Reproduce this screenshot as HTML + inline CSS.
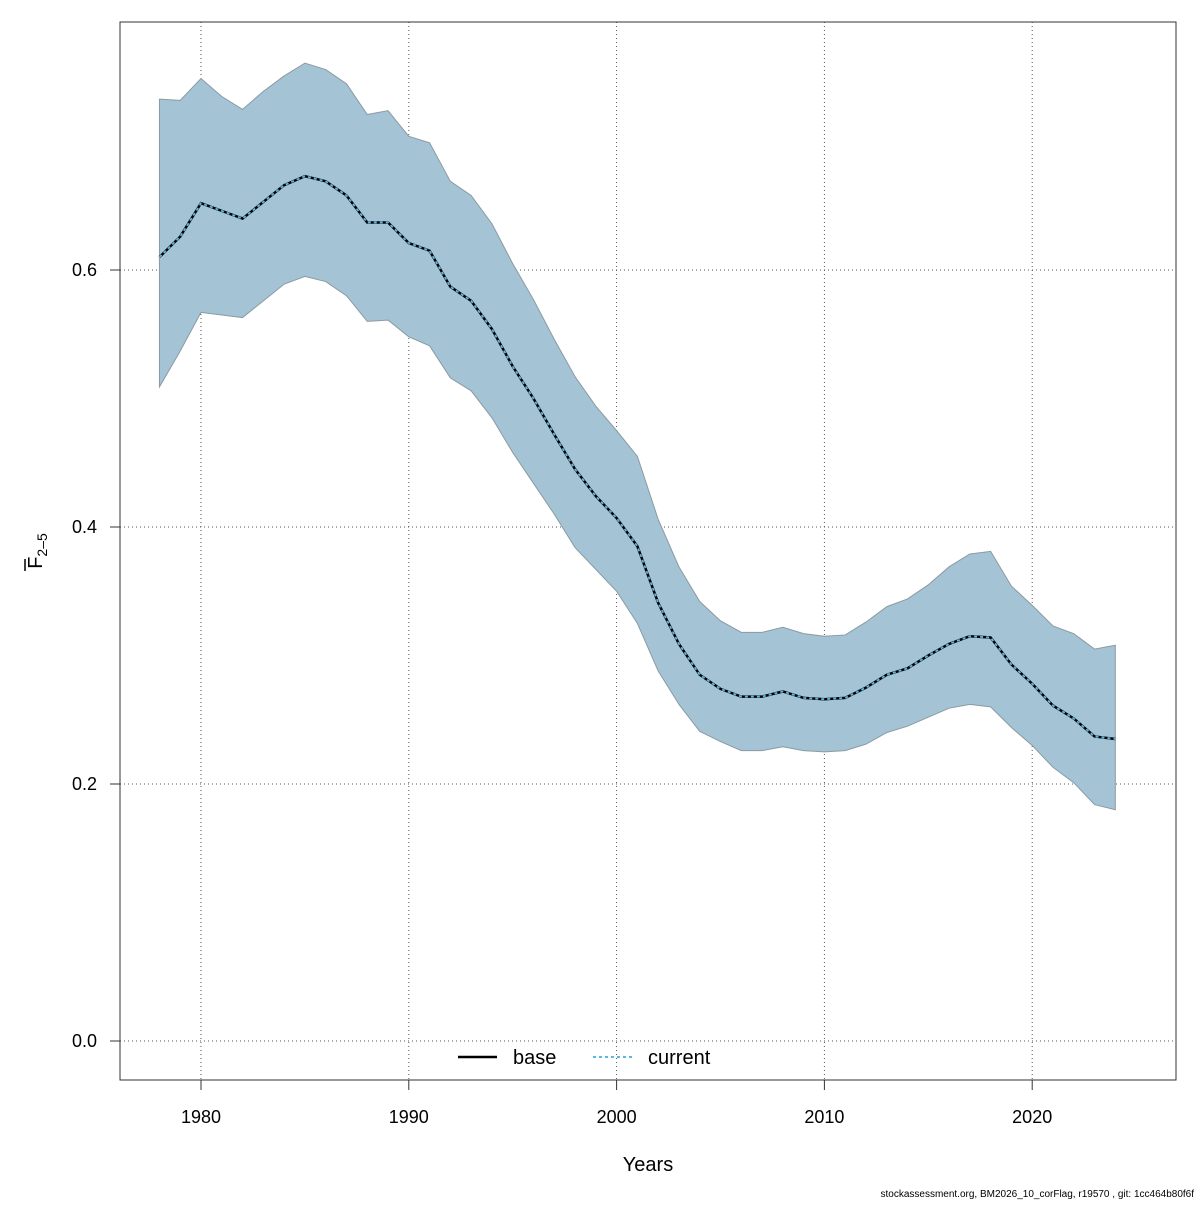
<!DOCTYPE html>
<html><head><meta charset="utf-8"><style>
body{margin:0;background:#fff}
svg text{font-family:"Liberation Sans",Arial,sans-serif}
</style></head><body>
<svg id="chart" width="1200" height="1200" xmlns="http://www.w3.org/2000/svg">
<g id="grid"></g>
<g id="series"></g>
<rect x="120" y="22" width="1056" height="1058" fill="none" stroke="#333" stroke-width="1"/>
<g id="axes"></g>
<text x="648" y="1171" font-size="20" text-anchor="middle">Years</text>
<g transform="translate(42,551) rotate(-90)">
<text x="0" y="0" font-size="20" text-anchor="middle">F<tspan font-size="14" dy="5">2–5</tspan></text>
<line x1="-20" x2="-8" y1="-17" y2="-17" stroke="#000" stroke-width="1.5"/>
</g>
<g>
<line x1="458" x2="497" y1="1057" y2="1057" stroke="#000" stroke-width="2.5"/>
<text x="513" y="1064" font-size="20">base</text>
<line x1="593" x2="632" y1="1057" y2="1057" stroke="#5bb8e6" stroke-width="2" stroke-dasharray="3,3"/>
<text x="648" y="1064" font-size="20">current</text>
</g>
<text x="1194" y="1197" font-size="10" text-anchor="end">stockassessment.org, BM2026_10_corFlag, r19570 , git: 1cc464b80f6f</text>
</svg>
<script>
const years=[1978,1979,1980,1981,1982,1983,1984,1985,1986,1987,1988,1989,1990,1991,1992,1993,1994,1995,1996,1997,1998,1999,2000,2001,2002,2003,2004,2005,2006,2007,2008,2009,2010,2011,2012,2013,2014,2015,2016,2017,2018,2019,2020,2021,2022,2023,2024];
const upper=[.733,.732,.749,.735,.725,.739,.751,.761,.756,.745,.721,.724,.704,.699,.669,.658,.636,.605,.577,.546,.517,.494,.475,.455,.406,.369,.342,.327,.318,.318,.322,.317,.315,.316,.326,.338,.344,.355,.369,.379,.381,.354,.339,.323,.317,.305,.308];
const lower=[.509,.537,.567,.565,.563,.576,.589,.595,.591,.580,.560,.561,.548,.541,.516,.506,.485,.458,.434,.410,.384,.367,.350,.325,.288,.262,.241,.233,.226,.226,.229,.226,.225,.226,.231,.240,.245,.252,.259,.262,.260,.244,.230,.213,.201,.184,.180];
const base=[.610,.626,.652,.646,.640,.653,.666,.673,.669,.658,.637,.637,.621,.615,.587,.576,.554,.525,.500,.472,.445,.424,.407,.385,.341,.309,.285,.274,.268,.268,.272,.267,.266,.267,.275,.285,.290,.300,.309,.315,.314,.293,.278,.261,.251,.237,.235];
const current=base.slice();
const xTicks=[1980,1990,2000,2010,2020];
const yTicks=[0.0,0.2,0.4,0.6];
const NS="http://www.w3.org/2000/svg";
const X=y=>201+(y-1980)*20.78;
const Y=v=>1041-v*1285;
function mk(tag,attrs,parent){const e=document.createElementNS(NS,tag);for(const k in attrs)e.setAttribute(k,attrs[k]);parent.appendChild(e);return e;}
const grid=document.getElementById('grid'),axes=document.getElementById('axes'),ser=document.getElementById('series');
xTicks.forEach(t=>{
 const g=mk('line',{x1:X(t),x2:X(t),y1:22,y2:1080,stroke:'#555','stroke-dasharray':'1,3'},grid);
 
 
 const tk=mk('line',{x1:X(t),x2:X(t),y1:1080,y2:1090,stroke:'#333'},axes);
 
 
 const tx=mk('text',{x:X(t),y:1123,'font-size':18,'text-anchor':'middle'},axes);tx.textContent=t;
 
 
});
yTicks.forEach(t=>{
 const g=mk('line',{x1:120,x2:1176,y1:Y(t),y2:Y(t),stroke:'#555','stroke-dasharray':'1,3'},grid);
 
 
 const tk=mk('line',{x1:110,x2:120,y1:Y(t),y2:Y(t),stroke:'#333'},axes);
 
 
 const tx=mk('text',{x:97,y:Y(t)+6,'font-size':18,'text-anchor':'end'},axes);tx.textContent=t.toFixed(1);
 
 
});
let d=years.map((y,i)=>(i?'L':'M')+X(y)+','+Y(upper[i])).join('');
for(let i=years.length-1;i>=0;i--)d+='L'+X(years[i])+','+Y(lower[i]);
const band=mk('path',{d:d+'Z',fill:'#a4c3d4',stroke:'#8a9aa3','stroke-width':1},ser);


const pts=a=>years.map((y,i)=>X(y)+','+Y(a[i])).join(' ');
const bl=mk('polyline',{points:pts(base),fill:'none',stroke:'#000','stroke-width':2.5},ser);


const cl=mk('polyline',{points:pts(current),fill:'none',stroke:'#5bb8e6','stroke-width':1.8,'stroke-dasharray':'3,3'},ser);


</script>
</body></html>
